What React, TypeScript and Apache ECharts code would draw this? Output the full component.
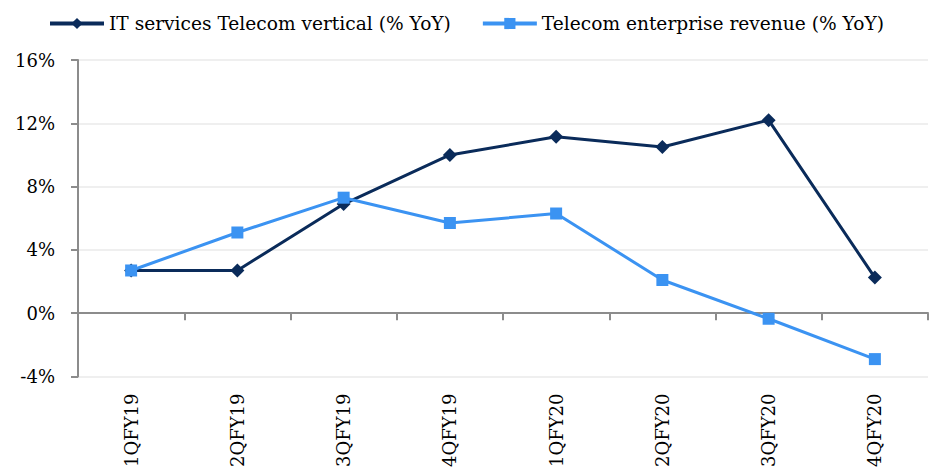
import React, { useEffect, useRef } from "react";
import * as echarts from "echarts";

const categories = ["1QFY19", "2QFY19", "3QFY19", "4QFY19", "1QFY20", "2QFY20", "3QFY20", "4QFY20"];
const itServicesTelecom = [2.7, 2.7, 6.9, 10.0, 11.15, 10.5, 12.2, 2.25];
const telecomEnterprise = [2.7, 5.1, 7.3, 5.7, 6.3, 2.1, -0.35, -2.9];
const seriesNames = ["IT services Telecom vertical (% YoY)", "Telecom enterprise revenue (% YoY)"];
const yMin = -4;
const yMax = 16;
const yInterval = 4;

const FONT = "DejaVu Serif";

export default function App() {
  const ref = useRef<HTMLDivElement>(null);
  useEffect(() => {
    if (!ref.current) return;
    const chart = echarts.init(ref.current, null, { renderer: "svg" });
    chart.setOption({
      animation: false,
      backgroundColor: "#ffffff",
      textStyle: { fontFamily: FONT },
      legend: {
        left: 48,
        top: 14,
        padding: 0,
        itemWidth: 54,
        itemHeight: 14,
        itemGap: 30,
        lineStyle: { width: 4 },
        textStyle: { fontFamily: FONT, fontSize: 18.6, color: "#000" },
        data: seriesNames,
      },
      grid: { left: 78, right: 2, top: 60, bottom: 93, containLabel: false },
      xAxis: [
        {
          type: "category",
          data: categories,
          boundaryGap: true,
          axisLine: { onZero: true, lineStyle: { color: "#8c8c8c", width: 2 } },
          axisTick: { show: true, inside: false, length: 7, alignWithLabel: false, lineStyle: { color: "#8c8c8c", width: 2 } },
          axisLabel: { show: false },
          splitLine: { show: false },
        },
        {
          type: "category",
          data: categories,
          position: "bottom",
          boundaryGap: true,
          axisLine: { show: false, onZero: false },
          axisTick: { show: false },
          axisLabel: {
            show: true,
            rotate: 90,
            margin: 17,
            fontFamily: FONT,
            fontSize: 18,
            color: "#000",
            interval: 0,
          },
        },
      ],
      yAxis: {
        type: "value",
        min: yMin,
        max: yMax,
        interval: yInterval,
        axisLine: { show: true, lineStyle: { color: "#8c8c8c", width: 2 } },
        axisTick: { show: true, length: 7, lineStyle: { color: "#8c8c8c", width: 2 } },
        axisLabel: { formatter: "{value}%", margin: 23, fontFamily: FONT, fontSize: 18, color: "#000" },
        splitLine: { show: true, lineStyle: { color: "#efefef", width: 2 } },
      },
      series: [
        {
          name: seriesNames[0],
          type: "line",
          xAxisIndex: 0,
          data: itServicesTelecom,
          symbol: "diamond",
          symbolSize: 14,
          lineStyle: { color: "#0a2b5a", width: 3 },
          itemStyle: { color: "#0a2b5a" },
          z: 3,
        },
        {
          name: seriesNames[1],
          type: "line",
          xAxisIndex: 0,
          data: telecomEnterprise,
          symbol: "rect",
          symbolSize: 12,
          lineStyle: { color: "#3b93f2", width: 3 },
          itemStyle: { color: "#3b93f2" },
          z: 4,
        },
      ],
    });
    return () => chart.dispose();
  }, []);
  return (
    <div
      ref={ref}
      style={{ position: "fixed", left: 0, top: 0, width: 930, height: 470, background: "#fff" }}
    />
  );
}
